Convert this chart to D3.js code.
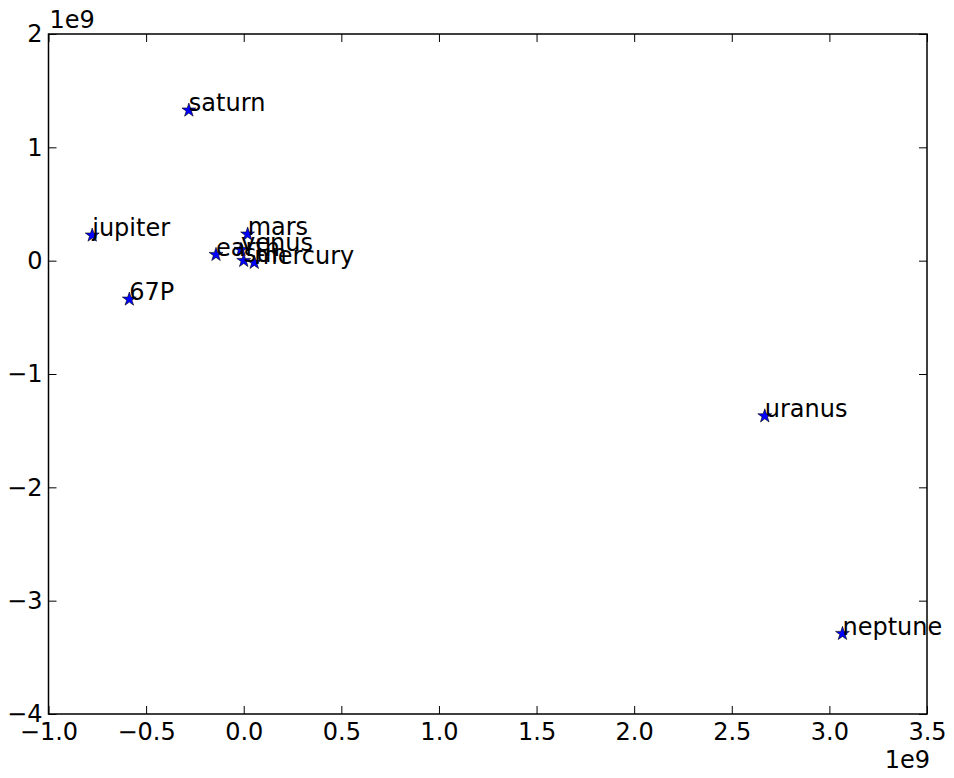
<!DOCTYPE html>
<html>
<head>
<meta charset="utf-8">
<script src="https://cdn.jsdelivr.net/npm/d3@7"></script>
<style>
  body { margin: 0; background: #fff; }
  svg { display: block; }
</style>
</head>
<body>
<div id="chart"></div>
<script>
// Positions of bodies (km)
const bodies = ['sun', 'mercury', 'venus', 'earth', 'mars', 'jupiter', 'saturn', 'uranus', 'neptune', '67P'];
const xPos = [0.0, 5.4e7, -1.4e7, -1.42e8, 2.0e7, -7.76e8, -2.81e8, 2.669e9, 3.067e9, -5.86e8];
const yPos = [0.0, -1.7e7, 9.7e7, 5.3e7, 2.33e8, 2.24e8, 1.327e9, -1.371e9, -3.291e9, -3.41e8];

const xTicks = [-1.0, -0.5, 0.0, 0.5, 1.0, 1.5, 2.0, 2.5, 3.0, 3.5];
const yTicks = [-4, -3, -2, -1, 0, 1, 2];

const width = 954, height = 778;
const margin = { top: 34, right: 27, bottom: 64, left: 48.5 };
const innerW = width - margin.left - margin.right;
const innerH = height - margin.top - margin.bottom;
const font = 'DejaVu Sans, sans-serif';
const fontSize = 24;

const svg = d3.select('#chart')
  .append('svg')
  .attr('width', width)
  .attr('height', height);

svg.append('rect')
  .attr('width', width)
  .attr('height', height)
  .attr('fill', '#fff');

const g = svg.append('g')
  .attr('transform', `translate(${margin.left}, ${margin.top})`);

// scales in units of 1e9 km
const x = d3.scaleLinear().domain([-1.0, 3.5]).range([0, innerW]);
const y = d3.scaleLinear().domain([-4, 2]).range([innerH, 0]);

const minus = s => s.replace('-', '\u2212');
const fmtX = d => minus(d3.format('.1f')(d));
const fmtY = d => minus(d3.format('d')(d));

// axes with inward ticks on all four sides
const tickLen = 8;
const styleAxis = sel => {
  sel.select('.domain').remove();
  sel.selectAll('.tick line').attr('stroke', '#000').attr('stroke-width', 1);
  sel.selectAll('text')
    .attr('fill', '#000')
    .style('font-family', font)
    .style('font-size', `${fontSize}px`);
};

g.append('g')
  .attr('transform', `translate(0, ${innerH})`)
  .call(d3.axisBottom(x).tickValues(xTicks).tickFormat(fmtX).tickSizeInner(-tickLen).tickSizeOuter(0).tickPadding(9))
  .call(styleAxis);

g.append('g')
  .call(d3.axisTop(x).tickValues(xTicks).tickFormat('').tickSizeInner(-tickLen).tickSizeOuter(0))
  .call(styleAxis);

g.append('g')
  .call(d3.axisLeft(y).tickValues(yTicks).tickFormat(fmtY).tickSizeInner(-tickLen).tickSizeOuter(0).tickPadding(6))
  .call(styleAxis);

g.append('g')
  .attr('transform', `translate(${innerW}, 0)`)
  .call(d3.axisRight(y).tickValues(yTicks).tickFormat('').tickSizeInner(-tickLen).tickSizeOuter(0))
  .call(styleAxis);

// frame
g.append('rect')
  .attr('width', innerW)
  .attr('height', innerH)
  .attr('fill', 'none')
  .attr('stroke', '#000')
  .attr('stroke-width', 1.5);

// offset labels
svg.append('text')
  .attr('x', margin.left + 1)
  .attr('y', margin.top - 6)
  .style('font-family', font)
  .style('font-size', `${fontSize}px`)
  .text('1e9');

svg.append('text')
  .attr('x', margin.left + innerW + 3)
  .attr('y', height - 10)
  .attr('text-anchor', 'end')
  .style('font-family', font)
  .style('font-size', `${fontSize}px`)
  .text('1e9');

// data
const data = bodies.map((name, i) => ({ name, x: xPos[i] / 1e9, y: yPos[i] / 1e9 }));

const star = d3.symbol().type(d3.symbolStar).size(60);

g.selectAll('.pt')
  .data(data)
  .enter()
  .append('path')
  .attr('class', 'pt')
  .attr('d', star)
  .attr('transform', d => `translate(${x(d.x)}, ${y(d.y)})`)
  .attr('fill', '#0000ff')
  .attr('stroke', '#000')
  .attr('stroke-width', 0.6);

g.selectAll('.lbl')
  .data(data)
  .enter()
  .append('text')
  .attr('class', 'lbl')
  .attr('x', d => x(d.x))
  .attr('y', d => y(d.y) + 1)
  .style('font-family', font)
  .style('font-size', `${fontSize}px`)
  .text(d => d.name);
</script>
</body>
</html>
